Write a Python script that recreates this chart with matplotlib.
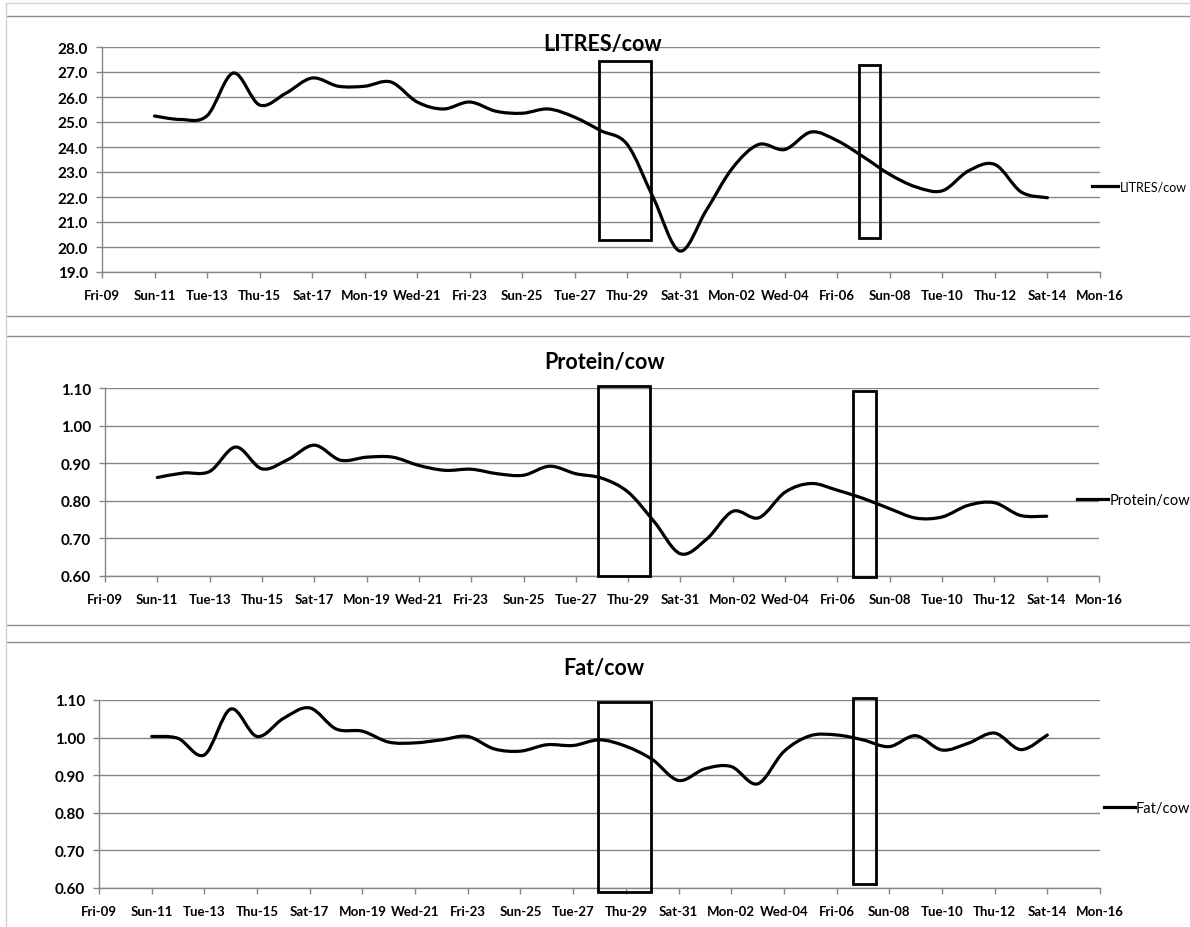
import numpy as np
import matplotlib
matplotlib.use("Agg")
from matplotlib import pyplot as plt
from matplotlib.path import Path
from matplotlib.patches import PathPatch, Rectangle
from matplotlib.lines import Line2D

plt.rcParams["font.family"] = ["Lato", "DejaVu Sans"]

# day index 0 = Fri-09, ticks every second day
tick_days = list(range(0, 39, 2))
tick_labels = ["Fri-09", "Sun-11", "Tue-13", "Thu-15", "Sat-17", "Mon-19", "Wed-21",
               "Fri-23", "Sun-25", "Tue-27", "Thu-29", "Sat-31", "Mon-02", "Wed-04",
               "Fri-06", "Sun-08", "Tue-10", "Thu-12", "Sat-14", "Mon-16"]
days = list(range(2, 37))

litres = [25.24, 25.10, 25.25, 26.96, 25.68, 26.15, 26.76, 26.43, 26.43, 26.60,
          25.80, 25.52, 25.80, 25.43, 25.35, 25.52, 25.19, 24.65, 24.10, 21.95,
          19.84, 21.45, 23.15, 24.10, 23.90, 24.60, 24.25, 23.60, 22.90, 22.40,
          22.25, 23.05, 23.30, 22.20, 21.97]
protein = [0.862, 0.874, 0.878, 0.943, 0.885, 0.910, 0.948, 0.908, 0.916, 0.916,
           0.894, 0.881, 0.884, 0.872, 0.868, 0.892, 0.872, 0.860, 0.823, 0.744,
           0.659, 0.698, 0.772, 0.755, 0.823, 0.846, 0.828, 0.806, 0.779, 0.754,
           0.757, 0.788, 0.795, 0.761, 0.759]
fat = [1.003, 0.998, 0.954, 1.076, 1.003, 1.051, 1.079, 1.023, 1.017, 0.988,
       0.986, 0.994, 1.003, 0.970, 0.964, 0.981, 0.979, 0.994, 0.977, 0.942,
       0.886, 0.917, 0.923, 0.877, 0.963, 1.005, 1.007, 0.994, 0.976, 1.005,
       0.967, 0.985, 1.012, 0.968, 1.007]

# highlight boxes (day from, day to, low, high)
litres_boxes = [(18.93, 20.91, 20.28, 27.44), (28.83, 29.63, 20.36, 27.28)]
protein_boxes = [(18.83, 20.85, 0.600, 1.104), (28.60, 29.47, 0.598, 1.091)]
fat_boxes = [(18.96, 20.94, 0.589, 1.0955), (28.64, 29.50, 0.610, 1.1045)]


def smooth_path(xs, ys):
    # excel style smoothed line: cubic bezier through every point
    pts = np.column_stack([xs, ys]).astype(float)
    n = len(pts)
    verts = [pts[0]]
    codes = [Path.MOVETO]
    for i in range(n - 1):
        p0 = pts[i - 1] if i > 0 else pts[i]
        p1, p2 = pts[i], pts[i + 1]
        p3 = pts[i + 2] if i + 2 < n else pts[i + 1]
        verts += [p1 + (p2 - p0) / 6, p2 - (p3 - p1) / 6, p2]
        codes += [Path.CURVE4] * 3
    return Path(verts, codes)


W, H = 1190, 928
fig = plt.figure(figsize=(W / 100, H / 100), dpi=100)


def px_axes(left, right, top, bottom):
    return fig.add_axes([left / W, 1 - bottom / H, (right - left) / W, (bottom - top) / H])


def draw_panel(ax, values, name, ylim, ystep, fmt, boxes, title_xy, leg_xy, leg_size):
    grey = "#868686"
    ax.set_xlim(0, 38)
    ax.set_ylim(*ylim)
    yt = np.arange(ylim[0], ylim[1] + ystep / 2, ystep)
    ax.set_yticks(yt)
    ax.set_yticklabels([fmt % v for v in yt])
    ax.set_xticks(tick_days)
    ax.set_xticklabels(tick_labels)
    for s in ["top", "right"]:
        ax.spines[s].set_visible(False)
    for s in ["left", "bottom"]:
        ax.spines[s].set_color(grey)
        ax.spines[s].set_linewidth(1.0)
    ax.grid(axis="y", color=grey, linewidth=1.0)
    ax.set_axisbelow(True)
    ax.tick_params(axis="both", color=grey, length=4, width=1.0)
    ax.tick_params(axis="y", labelsize=11, pad=6)
    ax.tick_params(axis="x", labelsize=9.5, pad=8)
    for lab in ax.get_xticklabels() + ax.get_yticklabels():
        lab.set_fontweight("bold")

    ax.add_patch(PathPatch(smooth_path(days, values), fill=False, color="black",
                           lw=2.3, capstyle="round", joinstyle="round", zorder=3))

    for x0, x1, y0, y1 in boxes:
        ax.add_patch(Rectangle((x0, y0), x1 - x0, y1 - y0, fill=False,
                               edgecolor="black", lw=2.0, clip_on=False, zorder=4))

    ax.legend(handles=[Line2D([], [], color="black", lw=2.3)], labels=[name],
              loc="center left", bbox_to_anchor=leg_xy, frameon=False,
              fontsize=leg_size, handlelength=2.1, handletextpad=0.1,
              borderpad=0, borderaxespad=0)

    fig.text(title_xy[0] / W, 1 - title_xy[1] / H, name, ha="center", va="center",
             fontsize=15.5, fontweight="bold")


ax1 = px_axes(102, 1100, 48, 273)
draw_panel(ax1, litres, "LITRES/cow", (19, 28), 1.0, "%.1f", litres_boxes,
           (603, 44), (0.992, 0.382), 9)

ax2 = px_axes(105, 1099, 389, 577)
draw_panel(ax2, protein, "Protein/cow", (0.6, 1.1), 0.1, "%.2f", protein_boxes,
           (605, 362), (0.978, 0.406), 10.5)

ax3 = px_axes(99, 1100, 701, 889)
draw_panel(ax3, fat, "Fat/cow", (0.6, 1.1), 0.1, "%.2f", fat_boxes,
           (604, 668), (1.004, 0.426), 10.5)

# chart frames around each panel
for y in [17, 317, 337, 626, 643]:
    fig.add_artist(Line2D([7 / W, 1], [1 - y / H] * 2, color="#8c8c8c", lw=1.0))
fig.add_artist(Line2D([6 / W, 1], [1 - 4 / H] * 2, color="#c9d3e3", lw=1.0))
fig.add_artist(Line2D([6 / W, 6 / W], [0, 1 - 4 / H], color="#c9d3e3", lw=1.0))

fig.savefig("out.png", dpi=100)
